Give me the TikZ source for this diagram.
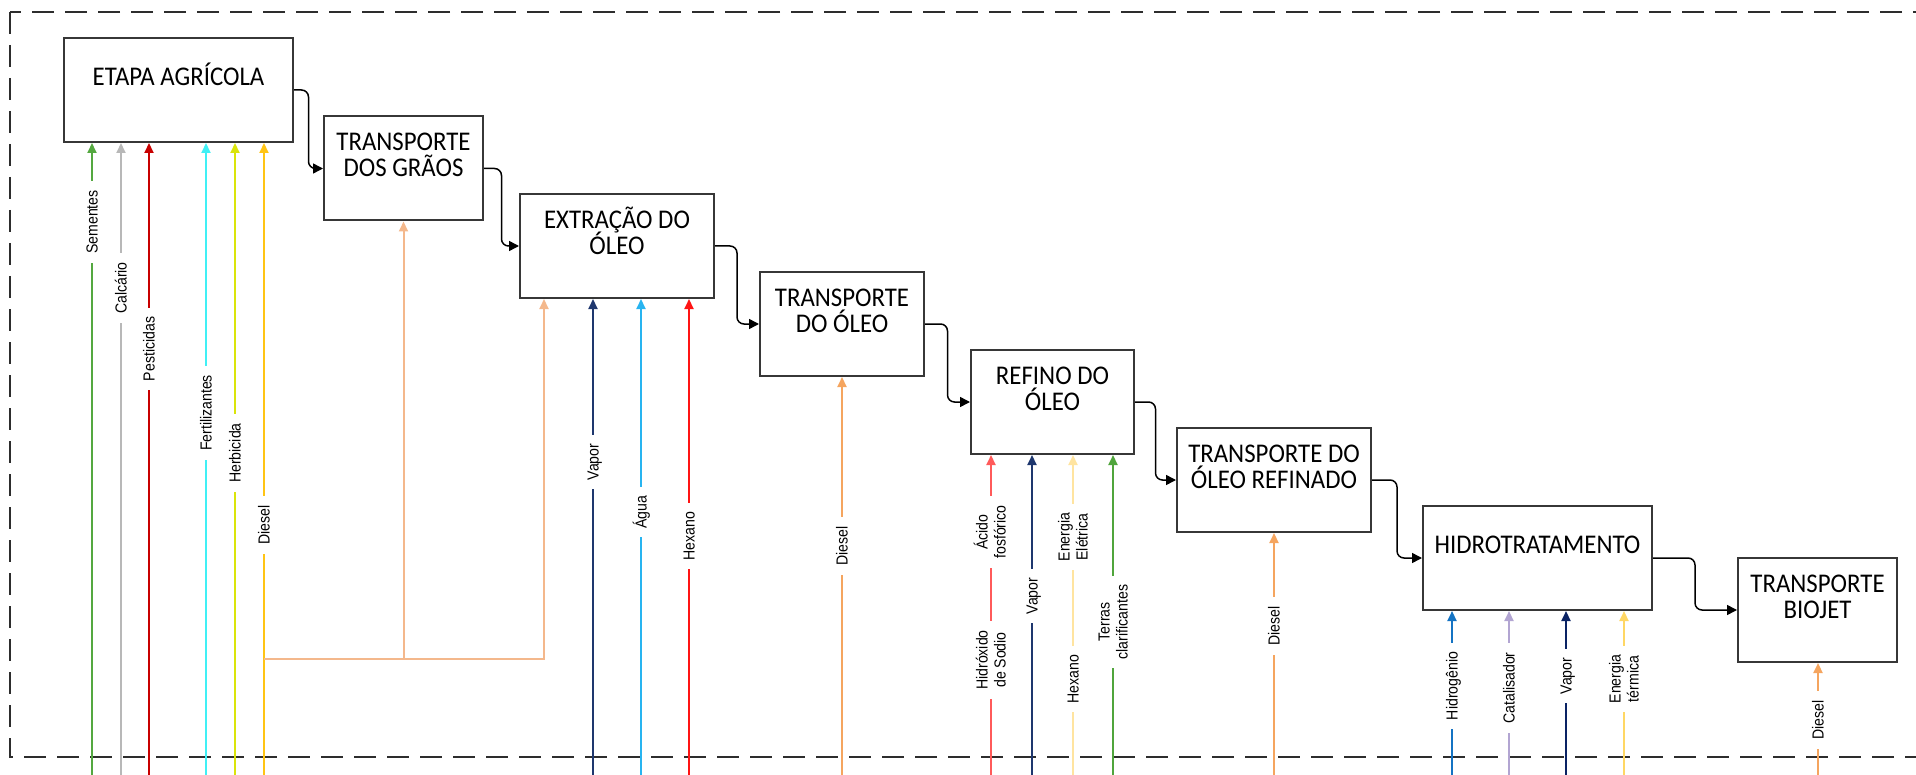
\documentclass[tikz,border=0pt]{standalone}
\usepackage{fontspec}
\usetikzlibrary{arrows.meta,calc}
\newfontfamily\boxfont[FakeStretch=0.92]{Carlito}
\newfontfamily\lblfont[FakeStretch=0.88]{Liberation Sans}
% struts that keep every text line centred on its capitals
\newcommand\bstrut{\rule[-3.75pt]{0pt}{16pt}}
\newcommand\lstrut{\rule[-1.65pt]{0pt}{9pt}}

\definecolor{boxline}{RGB}{55,55,55}
\definecolor{frameline}{RGB}{45,45,45}
\definecolor{cSem}{RGB}{84,168,64}
\definecolor{cCal}{RGB}{184,184,184}
\definecolor{cPes}{RGB}{200,0,0}
\definecolor{cFer}{RGB}{64,240,245}
\definecolor{cHer}{RGB}{218,228,10}
\definecolor{cDsG}{RGB}{255,196,20}
\definecolor{cOrL}{RGB}{244,184,140}
\definecolor{cOr}{RGB}{245,165,95}
\definecolor{cVap}{RGB}{30,55,110}
\definecolor{cAgu}{RGB}{40,180,240}
\definecolor{cHex}{RGB}{255,20,20}
\definecolor{cAci}{RGB}{255,90,90}
\definecolor{cEne}{RGB}{255,228,160}
\definecolor{cTer}{RGB}{80,165,60}
\definecolor{cHid}{RGB}{20,115,195}
\definecolor{cCat}{RGB}{178,165,210}
\definecolor{cVapB}{RGB}{10,35,100}
\definecolor{cTerm}{RGB}{255,215,100}

\begin{document}
\lineskiplimit=-50pt
\begin{tikzpicture}[x=0.5pt,y=-0.5pt,
  box/.style={draw=boxline, line width=1pt, fill=white, minimum height=52pt,
    inner sep=0pt, align=center,
    font=\boxfont\fontsize{13.5}{13}\selectfont},
  lbl/.style={rotate=90, fill=white, inner xsep=4.5pt, inner ysep=0pt,
    align=center, font=\lblfont\fontsize{8}{9}\selectfont},
  feed/.style={line width=1pt, -{Triangle[length=5pt,width=4.5pt]}},
  flow/.style={draw=black, line width=0.75pt, rounded corners=3.5pt,
    -{Triangle[length=5pt,width=5pt]}},
  frame/.style={draw=frameline, line width=1.2pt, dash pattern=on 11pt off 5.5pt}]

\useasboundingbox (0,0) rectangle (1916,775);
\clip (0,0) rectangle (1916,775);

% outer dashed boundary (its right side lies beyond the page)
\draw[frame] (10,12) rectangle (1960,757);

% process steps
\node[box, minimum width=114.5pt] (etapa)    at (178.5,90)   {\bstrut ETAPA AGRÍCOLA\\\bstrut};
\node[box, minimum width=79.5pt]  (graos)    at (403.5,168.5){\bstrut TRANSPORTE\\DOS GRÃOS\\\bstrut};
\node[box, minimum width=97pt]    (extr)     at (617,246)    {\bstrut EXTRAÇÃO DO\\ÓLEO\\\bstrut};
\node[box, minimum width=82pt]    (oleo)     at (842,324)    {\bstrut TRANSPORTE\\DO ÓLEO\\\bstrut};
\node[box, minimum width=81.5pt]  (refino)   at (1052.5,402) {\bstrut REFINO DO\\ÓLEO\\\bstrut};
\node[box, minimum width=97pt]    (refinado) at (1274,480)   {\bstrut TRANSPORTE DO\\ÓLEO REFINADO\\\bstrut};
\node[box, minimum width=114.5pt] (hidro)    at (1537.5,558) {\bstrut HIDROTRATAMENTO\\\bstrut};
\node[box, minimum width=79.5pt]  (biojet)   at (1817.5,610) {\bstrut TRANSPORTE\\BIOJET\\\bstrut};

% main flow between the steps
\foreach \a/\b in {etapa/graos, graos/extr, extr/oleo, oleo/refino,
                   refino/refinado, refinado/hidro, hidro/biojet}
  \draw[flow] (\a.east) -| ($(\a.east)!0.5!(\b.west)$) |- (\b.west);

% inputs of the agricultural stage
\coordinate (iSem) at (92,775);
\coordinate (iCal) at (121,775);
\coordinate (iPes) at (149,775);
\coordinate (iFer) at (206,775);
\coordinate (iHer) at (235,775);
\coordinate (iDsl) at (264,775);
\draw[feed, draw=cSem] (iSem) -- (iSem |- etapa.south);
\draw[feed, draw=cCal] (iCal) -- (iCal |- etapa.south);
\draw[feed, draw=cPes] (iPes) -- (iPes |- etapa.south);
\draw[feed, draw=cFer] (iFer) -- (iFer |- etapa.south);
\draw[feed, draw=cHer] (iHer) -- (iHer |- etapa.south);
\draw[feed, draw=cDsG] (iDsl) -- (iDsl |- etapa.south);

% diesel branch to grain transport and oil extraction
\coordinate (dsplit) at (264,659);
\coordinate (dturn)  at (544,659);
\draw[feed, draw=cOrL] (dsplit) -| (graos.south);
\draw[feed, draw=cOrL] (dsplit) -- (dturn) -- (dturn |- extr.south);

% inputs of the oil extraction
\coordinate (eVap) at (593,775);
\coordinate (eAgu) at (641,775);
\coordinate (eHex) at (689,775);
\draw[feed, draw=cVap] (eVap) -- (eVap |- extr.south);
\draw[feed, draw=cAgu] (eAgu) -- (eAgu |- extr.south);
\draw[feed, draw=cHex] (eHex) -- (eHex |- extr.south);

% oil transport
\coordinate (oDsl) at (842,775);
\draw[feed, draw=cOr] (oDsl) -- (oDsl |- oleo.south);

% inputs of the oil refining
\coordinate (rAci) at (991,775);
\coordinate (rVap) at (1032,775);
\coordinate (rEne) at (1073,775);
\coordinate (rTer) at (1113,775);
\draw[feed, draw=cAci] (rAci) -- (rAci |- refino.south);
\draw[feed, draw=cVap] (rVap) -- (rVap |- refino.south);
\draw[feed, draw=cEne] (rEne) -- (rEne |- refino.south);
\draw[feed, draw=cTer] (rTer) -- (rTer |- refino.south);

% refined oil transport
\coordinate (tDsl) at (1274,775);
\draw[feed, draw=cOr] (tDsl) -- (tDsl |- refinado.south);

% inputs of the hydrotreatment
\coordinate (hHid) at (1452,775);
\coordinate (hCat) at (1509,775);
\coordinate (hVap) at (1566,775);
\coordinate (hTer) at (1624,775);
\draw[feed, draw=cHid]  (hHid) -- (hHid |- hidro.south);
\draw[feed, draw=cCat]  (hCat) -- (hCat |- hidro.south);
\draw[feed, draw=cVapB] (hVap) -- (hVap |- hidro.south);
\draw[feed, draw=cTerm] (hTer) -- (hTer |- hidro.south);

% biojet transport
\coordinate (bDsl) at (1818,775);
\draw[feed, draw=cOr] (bDsl) -- (bDsl |- biojet.south);

% labels on the input lines
\node[lbl] (lSem) at (92,222)  {\lstrut Sementes};
\node[lbl] (lCal) at (121,288) {\lstrut Calcário};
\node[lbl] (lPes) at (149,349) {\lstrut Pesticidas};
\node[lbl] (lFer) at (206,413) {\lstrut Fertilizantes};
\node[lbl] (lHer) at (235,453) {\lstrut Herbicida};
\node[lbl] (lDsl) at (264,525) {\lstrut Diesel};

\node[lbl] (lEVap) at (593,462) {\lstrut Vapor};
\node[lbl] (lEAgu) at (641,512) {\lstrut Água};
\node[lbl] (lEHex) at (689,536) {\lstrut Hexano};

\node[lbl] (lODsl) at (842,546) {\lstrut Diesel};

\node[lbl] (lRAci) at (991,532)  {\lstrut Ácido\\\lstrut fosfórico};
\node[lbl] (lRHid) at (991,660)  {\lstrut Hidróxido\\\lstrut de Sodio};
\node[lbl] (lRVap) at (1032,596) {\lstrut Vapor};
\node[lbl] (lREne) at (1073,537) {\lstrut Energia\\\lstrut Elétrica};
\node[lbl] (lRHex) at (1073,679) {\lstrut Hexano};
\node[lbl] (lRTer) at (1113,622) {\lstrut Terras\\\lstrut clarificantes};

\node[lbl] (lTDsl) at (1274,626) {\lstrut Diesel};

\node[lbl] (lHHid) at (1452,686) {\lstrut Hidrogênio};
\node[lbl] (lHCat) at (1509,688) {\lstrut Catalisador};
\node[lbl] (lHVap) at (1566,676) {\lstrut Vapor};
\node[lbl] (lHTer) at (1624,679) {\lstrut Energia\\\lstrut térmica};

\node[lbl] (lBDsl) at (1818,720) {\lstrut Diesel};

\end{tikzpicture}
\end{document}
